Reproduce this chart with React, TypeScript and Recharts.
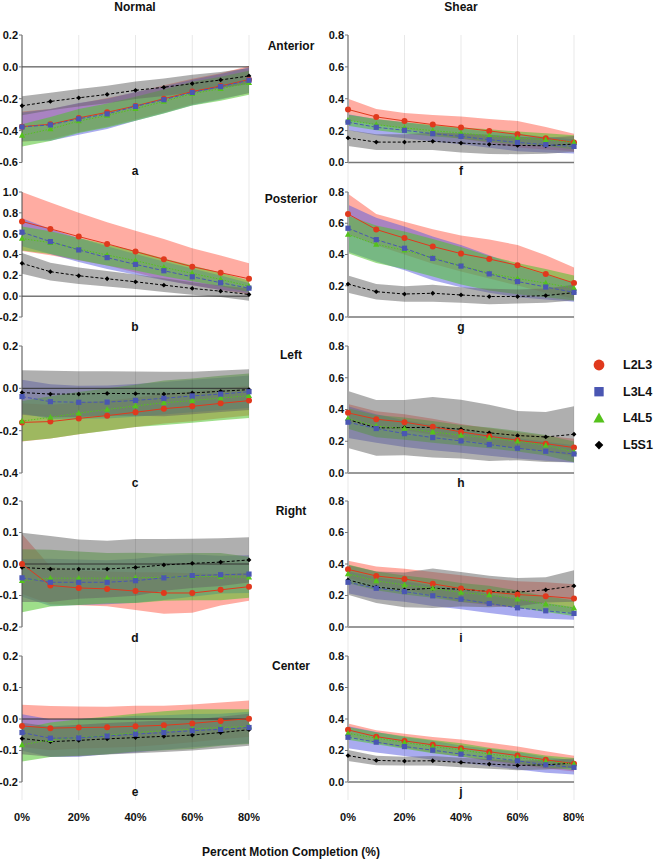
import React from "react";
import {
  ComposedChart,
  Area,
  Line,
  XAxis,
  YAxis,
  ReferenceLine,
} from "recharts";

const FONT = '"Liberation Sans", Arial, Helvetica, sans-serif';

const pct = [0, 10, 20, 30, 40, 50, 60, 70, 80];
const xTicks = [0, 20, 40, 60, 80];
const levels = ["L2L3", "L3L4", "L4L5", "L5S1"];
const rowNames = ["Anterior", "Posterior", "Left", "Right", "Center"];
const normalLetters = ["a", "b", "c", "d", "e"];
const shearLetters = ["f", "g", "h", "i", "j"];

const normalTicks = [
  [0.2, 0, -0.2, -0.4, -0.6],
  [1.0, 0.8, 0.6, 0.4, 0.2, 0, -0.2],
  [0.2, 0, -0.2, -0.4],
  [0.2, 0.1, 0, -0.1, -0.2],
  [0.2, 0.1, 0, -0.1, -0.2],
];
const shearTicks = [0.8, 0.6, 0.4, 0.2, 0];

// a: Normal / Anterior
const aMean = {
  L2L3: [-0.375, -0.36, -0.32, -0.285, -0.245, -0.2, -0.155, -0.12, -0.08],
  L3L4: [-0.377, -0.364, -0.326, -0.295, -0.248, -0.206, -0.16, -0.124, -0.084],
  L4L5: [-0.43, -0.39, -0.34, -0.305, -0.263, -0.217, -0.168, -0.137, -0.1],
  L5S1: [-0.244, -0.217, -0.194, -0.173, -0.147, -0.128, -0.105, -0.082, -0.057],
};
const aSd = {
  L2L3: [0.095, 0.095, 0.09, 0.09, 0.085, 0.085, 0.08, 0.08, 0.085],
  L3L4: [0.09, 0.1, 0.1, 0.095, 0.09, 0.085, 0.08, 0.08, 0.08],
  L4L5: [0.07, 0.075, 0.075, 0.075, 0.075, 0.075, 0.075, 0.075, 0.075],
  L5S1: [0.06, 0.055, 0.055, 0.055, 0.055, 0.055, 0.055, 0.05, 0.05],
};

// b: Normal / Posterior
const bMean = {
  L2L3: [0.717, 0.646, 0.572, 0.502, 0.428, 0.354, 0.283, 0.225, 0.167],
  L3L4: [0.614, 0.524, 0.444, 0.37, 0.305, 0.244, 0.186, 0.129, 0.077],
  L4L5: [0.553, 0.514, 0.453, 0.395, 0.341, 0.277, 0.219, 0.161, 0.096],
  L5S1: [0.315, 0.235, 0.196, 0.167, 0.138, 0.106, 0.074, 0.048, 0.016],
};
const bSd = {
  L2L3: [0.283, 0.254, 0.228, 0.208, 0.2, 0.196, 0.177, 0.165, 0.148],
  L3L4: [0.135, 0.12, 0.115, 0.11, 0.1, 0.09, 0.08, 0.07, 0.05],
  L4L5: [0.115, 0.11, 0.105, 0.1, 0.095, 0.085, 0.075, 0.065, 0.055],
  L5S1: [0.1, 0.085, 0.08, 0.075, 0.07, 0.065, 0.06, 0.055, 0.06],
};

// c: Normal / Left
const cMean = {
  L2L3: [-0.161, -0.157, -0.142, -0.129, -0.113, -0.096, -0.085, -0.071, -0.058],
  L3L4: [-0.039, -0.063, -0.066, -0.065, -0.057, -0.047, -0.036, -0.027, -0.016],
  L4L5: [-0.155, -0.137, -0.117, -0.1, -0.083, -0.068, -0.058, -0.046, -0.035],
  L5S1: [-0.02, -0.027, -0.027, -0.024, -0.025, -0.027, -0.022, -0.014, -0.006],
};
const cSd = {
  L2L3: [0.09, 0.08, 0.075, 0.07, 0.07, 0.07, 0.07, 0.07, 0.07],
  L3L4: [0.08, 0.082, 0.078, 0.078, 0.077, 0.077, 0.077, 0.077, 0.077],
  L4L5: [0.095, 0.1, 0.1, 0.1, 0.1, 0.105, 0.105, 0.105, 0.105],
  L5S1: [0.105, 0.11, 0.108, 0.105, 0.105, 0.105, 0.1, 0.098, 0.096],
};

// d: Normal / Right
const dMean = {
  L2L3: [0.0, -0.068, -0.076, -0.079, -0.086, -0.092, -0.092, -0.082, -0.072],
  L3L4: [-0.044, -0.058, -0.058, -0.058, -0.053, -0.044, -0.037, -0.034, -0.032],
  L4L5: [-0.053, -0.045, -0.045, -0.045, -0.044, -0.042, -0.04, -0.04, -0.042],
  L5S1: [-0.011, -0.016, -0.016, -0.016, -0.011, -0.003, 0.002, 0.006, 0.013],
};
const dSd = {
  L2L3: [0.095, 0.06, 0.055, 0.055, 0.06, 0.066, 0.063, 0.05, 0.045],
  L3L4: [0.06, 0.075, 0.072, 0.07, 0.07, 0.07, 0.067, 0.06, 0.06],
  L4L5: [0.1, 0.09, 0.085, 0.08, 0.08, 0.075, 0.075, 0.075, 0.065],
  L5S1: [0.11, 0.105, 0.094, 0.09, 0.09, 0.082, 0.078, 0.076, 0.072],
};

// e: Normal / Center
const eMean = {
  L2L3: [-0.022, -0.029, -0.027, -0.026, -0.023, -0.02, -0.014, -0.006, 0.001],
  L3L4: [-0.043, -0.061, -0.06, -0.054, -0.048, -0.043, -0.037, -0.033, -0.027],
  L4L5: [-0.082, -0.066, -0.059, -0.052, -0.043, -0.037, -0.032, -0.027, -0.024],
  L5S1: [-0.062, -0.072, -0.068, -0.063, -0.059, -0.055, -0.051, -0.043, -0.034],
};
const eSd = {
  L2L3: [0.067, 0.07, 0.067, 0.065, 0.065, 0.062, 0.06, 0.058, 0.058],
  L3L4: [0.058, 0.06, 0.06, 0.058, 0.058, 0.055, 0.053, 0.05, 0.05],
  L4L5: [0.053, 0.055, 0.058, 0.06, 0.06, 0.062, 0.063, 0.058, 0.055],
  L5S1: [0.05, 0.048, 0.05, 0.05, 0.05, 0.05, 0.049, 0.05, 0.051],
};

// f: Shear / Anterior
const fMean = {
  L2L3: [0.333, 0.286, 0.261, 0.238, 0.219, 0.198, 0.177, 0.152, 0.126],
  L3L4: [0.253, 0.221, 0.202, 0.181, 0.164, 0.143, 0.126, 0.112, 0.101],
  L4L5: [0.265, 0.238, 0.217, 0.2, 0.185, 0.168, 0.154, 0.143, 0.126],
  L5S1: [0.154, 0.128, 0.128, 0.133, 0.122, 0.114, 0.107, 0.105, 0.116],
};
const fSd = {
  L2L3: [0.067, 0.05, 0.05, 0.06, 0.07, 0.075, 0.083, 0.07, 0.055],
  L3L4: [0.05, 0.05, 0.05, 0.05, 0.05, 0.05, 0.055, 0.05, 0.045],
  L4L5: [0.035, 0.035, 0.035, 0.035, 0.035, 0.04, 0.04, 0.04, 0.045],
  L5S1: [0.05, 0.05, 0.05, 0.055, 0.06, 0.06, 0.055, 0.05, 0.05],
};

// g: Shear / Posterior
const gMean = {
  L2L3: [0.659, 0.56, 0.505, 0.451, 0.406, 0.371, 0.331, 0.276, 0.217],
  L3L4: [0.568, 0.495, 0.44, 0.375, 0.326, 0.276, 0.227, 0.192, 0.158],
  L4L5: [0.528, 0.465, 0.427, 0.379, 0.328, 0.28, 0.246, 0.217, 0.185],
  L5S1: [0.211, 0.162, 0.147, 0.152, 0.141, 0.131, 0.131, 0.137, 0.156],
};
const gSd = {
  L2L3: [0.13, 0.1, 0.105, 0.11, 0.115, 0.125, 0.13, 0.12, 0.1],
  L3L4: [0.15, 0.14, 0.14, 0.14, 0.135, 0.12, 0.1, 0.08, 0.06],
  L4L5: [0.12, 0.12, 0.12, 0.12, 0.12, 0.11, 0.1, 0.09, 0.08],
  L5S1: [0.055, 0.05, 0.05, 0.055, 0.05, 0.05, 0.045, 0.045, 0.05],
};

// h: Shear / Left
const hMean = {
  L2L3: [0.379, 0.339, 0.32, 0.291, 0.259, 0.232, 0.206, 0.185, 0.16],
  L3L4: [0.32, 0.28, 0.248, 0.223, 0.202, 0.179, 0.156, 0.137, 0.12],
  L4L5: [0.343, 0.295, 0.28, 0.259, 0.238, 0.221, 0.2, 0.175, 0.133],
  L5S1: [0.337, 0.284, 0.286, 0.288, 0.276, 0.253, 0.236, 0.227, 0.244],
};
const hSd = {
  L2L3: [0.055, 0.05, 0.05, 0.05, 0.05, 0.05, 0.05, 0.05, 0.055],
  L3L4: [0.1, 0.09, 0.085, 0.08, 0.075, 0.07, 0.065, 0.06, 0.055],
  L4L5: [0.065, 0.07, 0.07, 0.068, 0.065, 0.065, 0.065, 0.065, 0.065],
  L5S1: [0.18, 0.176, 0.174, 0.19, 0.185, 0.177, 0.155, 0.158, 0.176],
};

// i: Shear / Right
const iMean = {
  L2L3: [0.366, 0.324, 0.305, 0.274, 0.244, 0.223, 0.206, 0.196, 0.181],
  L3L4: [0.284, 0.246, 0.225, 0.198, 0.177, 0.149, 0.122, 0.103, 0.086],
  L4L5: [0.337, 0.293, 0.267, 0.246, 0.219, 0.204, 0.177, 0.145, 0.12],
  L5S1: [0.299, 0.253, 0.236, 0.246, 0.24, 0.225, 0.221, 0.236, 0.261],
};
const iSd = {
  L2L3: [0.055, 0.06, 0.065, 0.075, 0.085, 0.085, 0.085, 0.088, 0.09],
  L3L4: [0.07, 0.07, 0.065, 0.065, 0.065, 0.06, 0.055, 0.05, 0.04],
  L4L5: [0.06, 0.06, 0.06, 0.06, 0.06, 0.058, 0.055, 0.05, 0.05],
  L5S1: [0.095, 0.1, 0.11, 0.125, 0.11, 0.1, 0.09, 0.08, 0.1],
};

// j: Shear / Center
const jMean = {
  L2L3: [0.331, 0.288, 0.261, 0.236, 0.215, 0.192, 0.168, 0.141, 0.116],
  L3L4: [0.284, 0.253, 0.225, 0.202, 0.177, 0.156, 0.135, 0.109, 0.093],
  L4L5: [0.309, 0.278, 0.251, 0.225, 0.204, 0.177, 0.156, 0.131, 0.114],
  L5S1: [0.168, 0.137, 0.133, 0.135, 0.124, 0.114, 0.105, 0.109, 0.12],
};
const jSd = {
  L2L3: [0.04, 0.04, 0.045, 0.05, 0.055, 0.058, 0.058, 0.055, 0.05],
  L3L4: [0.07, 0.065, 0.06, 0.06, 0.055, 0.055, 0.055, 0.05, 0.045],
  L4L5: [0.04, 0.038, 0.04, 0.042, 0.042, 0.04, 0.04, 0.038, 0.038],
  L5S1: [0.035, 0.03, 0.028, 0.03, 0.03, 0.03, 0.03, 0.03, 0.03],
};

const normalPanels = [
  [aMean, aSd],
  [bMean, bSd],
  [cMean, cSd],
  [dMean, dSd],
  [eMean, eSd],
];
const shearPanels = [
  [fMean, fSd],
  [gMean, gSd],
  [hMean, hSd],
  [iMean, iSd],
  [jMean, jSd],
];

// layout (pixels)
const rowTop = [34.5, 192, 346, 501, 656];
const rowSpan = [127.5, 125, 127, 126, 126];
const rowGap = [29.5, 29, 28, 29, 18];
const colLeft = [0, 322];
const colWidth = [260, 262];
const colYAxis = [22, 26];
const colPlot = [227, 226];

const markColor: Record<string, string> = {
  L2L3: "#e0391d",
  L3L4: "#4a56b2",
  L4L5: "#55c21c",
  L5S1: "#000000",
};
const bandColor: Record<string, string> = {
  L2L3: "#ff5a45",
  L3L4: "#5a5ee0",
  L4L5: "#4ec22a",
  L5S1: "#666666",
};
const bandAlpha: Record<string, number> = {
  L2L3: 0.5,
  L3L4: 0.52,
  L4L5: 0.55,
  L5S1: 0.52,
};
const dash: Record<string, string | undefined> = {
  L2L3: undefined,
  L3L4: "4 2",
  L4L5: "1.5 1.5",
  L5S1: "3 2",
};

function Marker({ kind, cx, cy, s = 1 }: { kind: string; cx: number; cy: number; s?: number }) {
  const c = markColor[kind]
  if (kind === "L2L3") return <circle cx={cx} cy={cy} r={3 * s} fill={c} />
  if (kind === "L3L4")
    return <rect x={cx - 2.6 * s} y={cy - 2.6 * s} width={5.2 * s} height={5.2 * s} fill={c} />
  if (kind === "L4L5")
    return (
      <polygon
        points={`${cx},${cy - 3.3 * s} ${cx - 3.1 * s},${cy + 2.3 * s} ${cx + 3.1 * s},${cy + 2.3 * s}`}
        fill={c}
      />
    )
  return (
    <polygon
      points={`${cx},${cy - 2.4 * s} ${cx + 2.4 * s},${cy} ${cx},${cy + 2.4 * s} ${cx - 2.4 * s},${cy}`}
      fill={c}
    />
  )
}

function Panel({
  mean,
  sd,
  ticks,
  row,
  col,
}: {
  mean: Record<string, number[]>
  sd: Record<string, number[]>
  ticks: number[]
  row: number
  col: number
}) {
  const data = pct.map((x, i) => {
    const d: Record<string, any> = { x }
    levels.forEach((k) => {
      d[k] = mean[k][i]
      d[k + "_band"] = [mean[k][i] - sd[k][i], mean[k][i] + sd[k][i]]
    })
    return d
  })
  const lo = Math.min(...ticks)
  const hi = Math.max(...ticks)
  const last = row === 4
  const width = colWidth[col]
  const yw = colYAxis[col]
  const height = 8 + rowSpan[row] + rowGap[row] + (last ? 30 : 1)
  const tickStyle = { fontSize: 11, fontWeight: 700, fill: "#111", fontFamily: FONT }

  return (
    <div style={{ position: "absolute", left: colLeft[col], top: rowTop[row] - 8 }}>
      <ComposedChart
        width={width}
        height={height}
        data={data}
        margin={{ top: 8, right: width - yw - colPlot[col], left: 0, bottom: 0 }}
      >
        <XAxis
          type="number"
          dataKey="x"
          domain={[0, 80]}
          ticks={xTicks}
          interval={0}
          axisLine={false}
          tickLine={false}
          tick={last ? tickStyle : false}
          tickSize={0}
          tickMargin={13}
          height={last ? 30 : 1}
          tickFormatter={(v: number) => `${v}%`}
        />
        <YAxis
          type="number"
          domain={[lo, hi]}
          ticks={ticks}
          interval={0}
          allowDataOverflow
          width={yw}
          padding={{ top: 0, bottom: rowGap[row] }}
          axisLine={false}
          tickLine={{ stroke: "#777" }}
          tickSize={3}
          tickMargin={1}
          tick={tickStyle}
          tickFormatter={(v: number) => v.toFixed(1)}
        />
        {levels.map((k) => (
          <Area
            key={k + "b"}
            type="linear"
            dataKey={k + "_band"}
            stroke="none"
            fill={bandColor[k]}
            fillOpacity={bandAlpha[k]}
            dot={false}
            activeDot={false}
            isAnimationActive={false}
          />
        ))}
        {/* faint vertical grid, translucent so it fades into the bands */}
        {xTicks.map((t) => (
          <ReferenceLine key={"g" + t} x={t} stroke="#000" strokeOpacity={0.09} strokeWidth={1} />
        ))}
        <ReferenceLine y={0} stroke={col === 0 ? "#333" : "#777"} strokeWidth={col === 0 ? 1 : 1.3} />
        <ReferenceLine
          segment={[
            { x: 0, y: lo },
            { x: 0, y: hi },
          ]}
          stroke={col === 0 ? "#555" : "#a6a6a6"}
          strokeWidth={col === 0 ? 1 : 2}
        />
        {["L5S1", "L2L3", "L4L5", "L3L4"].map((k) => (
          <Line
            key={k}
            type="linear"
            dataKey={k}
            stroke={markColor[k]}
            strokeWidth={1}
            strokeDasharray={dash[k]}
            dot={(p: any) => <Marker key={`${k}-${p.index}`} kind={k} cx={p.cx} cy={p.cy} />}
            activeDot={false}
            isAnimationActive={false}
          />
        ))}
      </ComposedChart>
    </div>
  )
}

const textBase: React.CSSProperties = {
  position: "absolute",
  transform: "translate(-50%, -50%)",
  whiteSpace: "nowrap",
  fontFamily: FONT,
  fontWeight: 700,
  color: "#111",
  fontSize: 12,
}

const letterY = [171, 327, 483, 638, 792]
const rowLabelY = [46, 199, 355, 511, 666]

export default function App() {
  return (
    <div
      style={{
        position: "absolute",
        left: 0,
        top: 0,
        width: 654,
        height: 859,
        background: "#fff",
        overflow: "hidden",
      }}
    >
      {normalPanels.map(([m, s], r) => (
        <Panel key={"n" + r} mean={m} sd={s} ticks={normalTicks[r]} row={r} col={0} />
      ))}
      {shearPanels.map(([m, s], r) => (
        <Panel key={"s" + r} mean={m} sd={s} ticks={shearTicks} row={r} col={1} />
      ))}

      <div style={{ ...textBase, left: 135, top: 7 }}>Normal</div>
      <div style={{ ...textBase, left: 461, top: 7 }}>Shear</div>

      {rowNames.map((n, r) => (
        <div key={n} style={{ ...textBase, left: 291, top: rowLabelY[r] }}>
          {n}
        </div>
      ))}
      {normalLetters.map((l, r) => (
        <div key={l} style={{ ...textBase, left: 135, top: letterY[r] }}>
          {l}
        </div>
      ))}
      {shearLetters.map((l, r) => (
        <div key={l} style={{ ...textBase, left: 461, top: letterY[r] }}>
          {l}
        </div>
      ))}

      <svg style={{ position: "absolute", left: 585, top: 350 }} width={30} height={110}>
        {levels.map((k, i) => (
          <Marker key={k} kind={k} cx={14} cy={15 + i * 26.7} s={1.8} />
        ))}
      </svg>
      {levels.map((k, i) => (
        <div
          key={k}
          style={{ ...textBase, transform: "translate(0, -50%)", left: 623, top: 365 + i * 26.7, fontSize: 12.5 }}
        >
          {k}
        </div>
      ))}

      <div style={{ ...textBase, left: 291, top: 852 }}>Percent Motion Completion (%)</div>
    </div>
  )
}
